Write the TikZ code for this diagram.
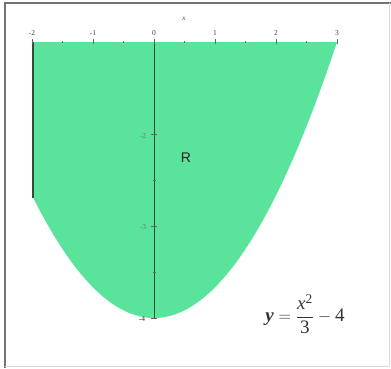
\documentclass[tikz,border=0pt]{standalone}
\usepackage{amsmath}
\usepackage{fontspec}
\setmainfont{Liberation Serif}
\setsansfont{Liberation Sans}
\begin{document}
\begin{tikzpicture}[x=1pt,y=-1pt,
  ticklbl/.style={font=\fontsize{7.5}{7.5}\selectfont, text=black!75, inner sep=0.5pt},
  tickmark/.style={draw=black!60, line width=0.5pt}]
\definecolor{regfill}{RGB}{90,228,155}
\definecolor{axisdark}{RGB}{40,80,60}
\useasboundingbox (0,0) rectangle (391,368);
\fill[white] (0,0) rectangle (391,368);
% frame
\draw[black!55, line width=2pt] (5,368) -- (5,3) -- (391,3);
\draw[black!15, line width=0.8pt] (389.5,3) -- (389.5,366.5) -- (5,366.5);
% region
\fill[regfill] (32,42) -- plot[domain=-2:3, samples=80, smooth] ({154+61*\x},{42+92*(3-\x*\x/3)}) -- (337,42) -- cycle;
% left boundary
\draw[axisdark, line width=1.6pt] (33,42) -- (33,197.5);
% y axis
\draw[axisdark, line width=0.6pt] (154,42) -- (154,318);
% ticks on top
\foreach \k in {-2,-1,0,1,2,3} {
  \draw[tickmark] ({154+61*\k},39) -- ({154+61*\k},44);
}
\foreach \k in {-1.5,-0.5,0.5,1.5,2.5} {
  \draw[tickmark] ({154+61*\k},40.5) -- ({154+61*\k},43);
}
\node[ticklbl] (tm2) at (32,33) {-2};
\node[ticklbl] (tm1) at (93,33) {-1};
\node[ticklbl] (t0) at (154,33) {0};
\node[ticklbl] (t1) at (215,33) {1};
\node[ticklbl] (t2) at (276,33) {2};
\node[ticklbl] (t3) at (337,33) {3};
\node[ticklbl, font=\fontsize{7}{7}\selectfont\itshape] (xl) at (184,19) {x};
% y ticks
\foreach \v in {2,3,4} {
  \draw[tickmark] (151,{42+92*(\v-1)}) -- (157,{42+92*(\v-1)});
}
\foreach \v in {2.5,3.5} {
  \draw[tickmark] (152.5,{42+92*(\v-1)}) -- (155.5,{42+92*(\v-1)});
}
\node[ticklbl, text=black!55] (ym2) at (143,136) {-2};
\node[ticklbl, text=black!55] (ym3) at (143,227) {-3};
\node[ticklbl, text=black!80] (ym4) at (142,319) {-4};
% label R
\node[font=\sffamily\fontsize{14}{14}\selectfont, text=black!85] (R) at (186,158) {R};
% equation
\node[font=\fontsize{19}{19}\selectfont, text=black!80] (eq) at (305,314) {$\displaystyle \textit{\textbf{y}} = \frac{\textit{x}^{\text{2}}}{\text{3}} - \text{4}$};
\end{tikzpicture}
\end{document}
